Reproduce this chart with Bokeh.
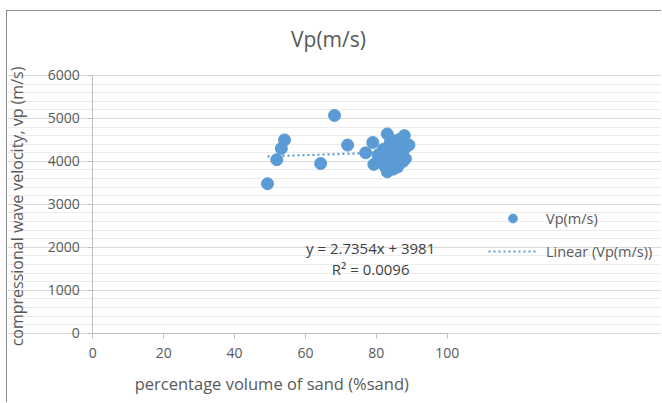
import math
from bokeh.plotting import figure
from bokeh.models import (ColumnDataSource, Label, Legend, LegendItem,
                          FixedTicker, Range1d)
from bokeh.embed import file_html
from bokeh.resources import INLINE

# Sand content (%) and P-wave velocity (m/s) of the samples
sand_pct = [49.3, 51.9, 53.2, 54.1, 64.3, 68.2, 71.9, 77.0,
            79.0, 79.3, 80.5, 81.0, 82.0, 82.5, 83.1, 83.1, 83.5, 84.0,
            84.5, 85.0, 85.3, 85.5, 86.0, 86.2, 86.8, 87.0, 87.5, 87.9,
            88.2, 89.2, 84.0, 82.0, 86.5, 85.0, 88.0, 83.0, 84.8, 86.0]
vp = [3480, 4040, 4300, 4500, 3950, 5070, 4380, 4200,
      4440, 3930, 4150, 4000, 4280, 3880, 4640, 3760, 4350, 4050,
      4200, 3900, 4480, 4100, 4300, 3950, 4520, 4150, 4000, 4600,
      4060, 4380, 4450, 4100, 4250, 4350, 4300, 4000, 3820, 3870]

# Linear trend (least squares) as reported on the chart
slope = 2.7354
intercept = 3981
r_squared = 0.0096

# Axis ticks
x_ticks = [0, 20, 40, 60, 80, 100]
y_ticks = [0, 1000, 2000, 3000, 4000, 5000, 6000]
y_minor = [v for v in range(200, 6000, 200) if v % 1000]

FONT = "Open Sans"
TXT = "#595959"
BLUE = "#5B9BD5"

# The frame fills the whole chart box; both axes sit at fixed positions
# inside it and the titles and legend are placed around the plot area.
PX_PER_X = 3.544          # px per % sand
PX_PER_Y = 0.042953       # px per m/s
W, H = 655, 392
origin_x = 85.3           # px from frame left to sand = 0
origin_y = 321.7          # px from frame top to vp = 0
x_start = -origin_x / PX_PER_X
x_end = (W - origin_x) / PX_PER_X
y_end = origin_y / PX_PER_Y
y_start = -(H - origin_y) / PX_PER_Y

p = figure(width=W, height=H, output_backend="svg", toolbar_location=None,
           x_range=Range1d(x_start, x_end), y_range=Range1d(y_start, y_end),
           min_border_left=0, min_border_right=0,
           min_border_top=0, min_border_bottom=0)
p.styles = {"border-left": "1px solid #8c8c8c", "border-top": "1px solid #8c8c8c",
            "margin-left": "6px", "margin-top": "10px"}
p.outline_line_color = None
p.background_fill_color = "white"

# Axes
for ax in (p.xaxis[0], p.yaxis[0]):
    ax.axis_line_color = "#bfbfbf"
    ax.major_tick_line_color = "#bfbfbf"
    ax.major_tick_out = 5
    ax.major_tick_in = 0
    ax.minor_tick_line_color = None
    ax.major_label_text_font = FONT
    ax.major_label_text_font_size = "14px"
    ax.major_label_text_color = TXT

p.xaxis.ticker = FixedTicker(ticks=x_ticks)
p.xaxis.bounds = (0, 100)
p.xaxis.fixed_location = 0
p.xaxis.major_label_standoff = 10
p.yaxis.ticker = FixedTicker(ticks=y_ticks, minor_ticks=y_minor)
p.yaxis.bounds = (0, 6000)
p.yaxis.fixed_location = 0
p.yaxis.major_label_standoff = 8

# Grid: horizontal major + minor lines only, spanning 0-100
p.xgrid.grid_line_color = None
p.ygrid.grid_line_color = "#d9d9d9"
p.ygrid.minor_grid_line_color = "#ececec"
p.ygrid.bounds = (0, 100)

# Chart title and axis titles
p.add_layout(Label(x=66.5, y=6840, text="Vp(m/s)", text_font=FONT,
                   text_font_size="21px", text_color=TXT,
                   text_align="center", text_baseline="middle"))
p.add_layout(Label(x=50.5, y=-1170, text="percentage volume of sand (%sand)",
                   text_font=FONT, text_font_size="16.5px", text_color=TXT,
                   text_align="center", text_baseline="middle"))
p.add_layout(Label(x=-21.3, y=2950, text="compressional wave velocity, vp (m/s)",
                   angle=math.pi / 2, text_font=FONT, text_font_size="16px",
                   text_color=TXT, text_align="center", text_baseline="middle"))

# Data points
src = ColumnDataSource(dict(x=sand_pct, y=vp))
pts = p.scatter("x", "y", source=src, size=12, color=BLUE, line_color=BLUE)

# Trend line across the observed sand range
x0, x1 = min(sand_pct), max(sand_pct)
trend = p.line([x0, x1], [slope * x0 + intercept, slope * x1 + intercept],
               line_color=BLUE, line_width=2.2, line_dash="2 3")

# Equation and R²
p.add_layout(Label(x=78.4, y=1995, text=f"y = {slope}x + {intercept}",
                   text_font=FONT, text_font_size="15px", text_color="#404040",
                   text_align="center", text_baseline="middle"))
p.add_layout(Label(x=78.4, y=1506, text=f"R² = {r_squared}",
                   text_font=FONT, text_font_size="15px", text_color="#404040",
                   text_align="center", text_baseline="middle"))

legend = Legend(items=[LegendItem(label="Vp(m/s)", renderers=[pts]),
                       LegendItem(label="Linear (Vp(m/s))", renderers=[trend])],
                location=(481, 141), border_line_color=None,
                background_fill_alpha=0, label_text_font=FONT,
                label_text_font_size="14.5px", label_text_color=TXT,
                glyph_width=49, glyph_height=22, label_standoff=9,
                spacing=11, padding=5, margin=0)
p.add_layout(legend, "center")

open("out.html", "w").write(file_html(p, INLINE))
